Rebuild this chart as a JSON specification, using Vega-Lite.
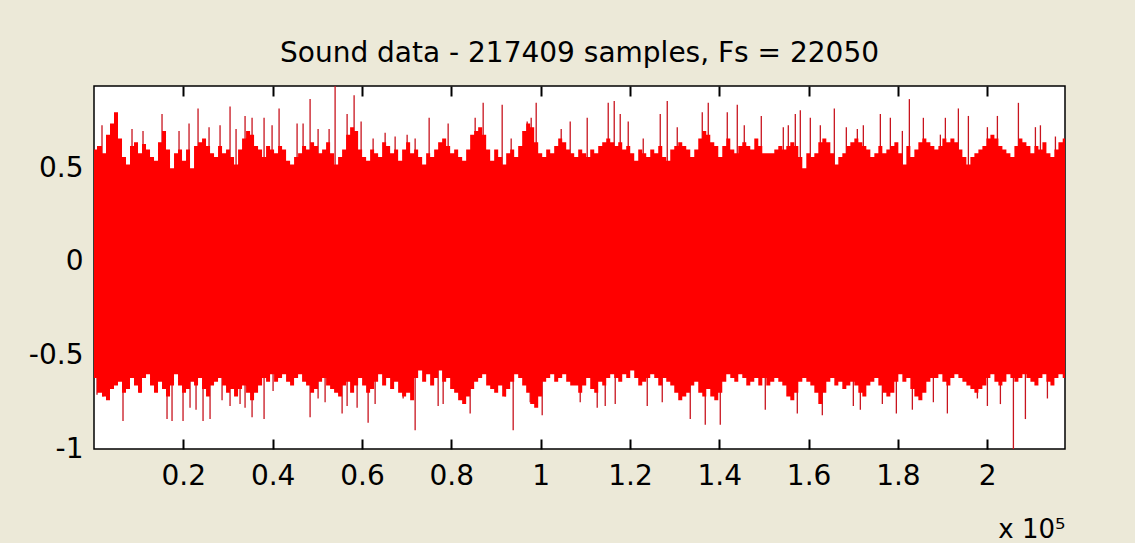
{
  "$schema": "https://vega.github.io/schema/vega-lite/v6.json",
  "autosize": "none",
  "width": 971,
  "height": 363,
  "padding": {"left": 94, "top": 86, "right": 70, "bottom": 94},
  "background": "#ECE9D8",
  "title": {"text": "Sound data - 217409 samples, Fs = 22050", "font": "DejaVu Sans", "fontSize": 28, "fontWeight": "normal", "color": "#000000", "anchor": "middle", "baseline": "alphabetic", "offset": -5},
  "datasets": {
    "cols": [
      {"x":1,"t":0.60,"b":-0.62},{"x":1344,"t":0.62,"b":-0.70},{"x":2240,"t":0.58,"b":-0.72},{"x":3136,"t":0.68,"b":-0.74},{"x":4032,"t":0.74,"b":-0.68},{"x":4928,"t":0.80,"b":-0.66},{"x":5824,"t":0.66,"b":-0.64},{"x":6720,"t":0.56,"b":-0.70},{"x":7616,"t":0.52,"b":-0.68},{"x":8512,"t":0.62,"b":-0.62},
      {"x":9408,"t":0.64,"b":-0.66},{"x":10304,"t":0.58,"b":-0.70},{"x":11200,"t":0.63,"b":-0.62},{"x":12096,"t":0.60,"b":-0.60},{"x":12992,"t":0.56,"b":-0.66},{"x":13888,"t":0.54,"b":-0.70},{"x":14784,"t":0.64,"b":-0.64},{"x":15680,"t":0.70,"b":-0.68},{"x":16576,"t":0.60,"b":-0.72},{"x":17472,"t":0.50,"b":-0.66},
      {"x":18368,"t":0.58,"b":-0.60},{"x":19264,"t":0.60,"b":-0.66},{"x":20160,"t":0.54,"b":-0.70},{"x":21056,"t":0.60,"b":-0.68},{"x":21952,"t":0.50,"b":-0.64},{"x":22848,"t":0.62,"b":-0.66},{"x":23744,"t":0.64,"b":-0.62},{"x":24640,"t":0.66,"b":-0.68},{"x":25536,"t":0.62,"b":-0.72},{"x":26432,"t":0.58,"b":-0.66},
      {"x":27328,"t":0.56,"b":-0.64},{"x":28224,"t":0.62,"b":-0.62},{"x":29120,"t":0.58,"b":-0.66},{"x":30016,"t":0.60,"b":-0.70},{"x":30912,"t":0.56,"b":-0.68},{"x":31808,"t":0.52,"b":-0.72},{"x":32704,"t":0.60,"b":-0.68},{"x":33600,"t":0.66,"b":-0.66},{"x":34496,"t":0.70,"b":-0.70},{"x":35392,"t":0.68,"b":-0.74},
      {"x":36288,"t":0.62,"b":-0.70},{"x":37184,"t":0.60,"b":-0.66},{"x":38080,"t":0.56,"b":-0.62},{"x":38976,"t":0.62,"b":-0.64},{"x":39872,"t":0.60,"b":-0.60},{"x":40768,"t":0.58,"b":-0.64},{"x":41664,"t":0.62,"b":-0.62},{"x":42560,"t":0.60,"b":-0.60},{"x":43456,"t":0.54,"b":-0.64},{"x":44352,"t":0.52,"b":-0.66},
      {"x":45248,"t":0.56,"b":-0.62},{"x":46144,"t":0.58,"b":-0.60},{"x":47040,"t":0.62,"b":-0.64},{"x":47936,"t":0.60,"b":-0.66},{"x":48832,"t":0.64,"b":-0.70},{"x":49728,"t":0.62,"b":-0.68},{"x":50624,"t":0.58,"b":-0.64},{"x":51520,"t":0.60,"b":-0.62},{"x":52416,"t":0.64,"b":-0.66},{"x":53312,"t":0.58,"b":-0.68},
      {"x":54208,"t":0.52,"b":-0.70},{"x":55104,"t":0.56,"b":-0.72},{"x":56000,"t":0.60,"b":-0.66},{"x":56896,"t":0.68,"b":-0.64},{"x":57792,"t":0.72,"b":-0.70},{"x":58688,"t":0.70,"b":-0.66},{"x":59584,"t":0.60,"b":-0.62},{"x":60480,"t":0.56,"b":-0.66},{"x":61376,"t":0.54,"b":-0.70},{"x":62272,"t":0.60,"b":-0.68},
      {"x":63168,"t":0.58,"b":-0.64},{"x":64064,"t":0.56,"b":-0.60},{"x":64960,"t":0.64,"b":-0.66},{"x":65856,"t":0.62,"b":-0.62},{"x":66752,"t":0.58,"b":-0.68},{"x":67648,"t":0.60,"b":-0.64},{"x":68544,"t":0.54,"b":-0.70},{"x":69440,"t":0.60,"b":-0.72},{"x":70336,"t":0.64,"b":-0.70},{"x":71232,"t":0.58,"b":-0.74},
      {"x":72128,"t":0.60,"b":-0.62},{"x":73024,"t":0.56,"b":-0.58},{"x":73920,"t":0.52,"b":-0.64},{"x":74816,"t":0.58,"b":-0.60},{"x":75712,"t":0.56,"b":-0.66},{"x":76608,"t":0.60,"b":-0.62},{"x":77504,"t":0.64,"b":-0.58},{"x":78400,"t":0.66,"b":-0.64},{"x":79296,"t":0.62,"b":-0.62},{"x":80192,"t":0.58,"b":-0.68},
      {"x":81088,"t":0.60,"b":-0.70},{"x":81984,"t":0.56,"b":-0.74},{"x":82880,"t":0.54,"b":-0.76},{"x":83776,"t":0.60,"b":-0.72},{"x":84672,"t":0.68,"b":-0.68},{"x":85568,"t":0.70,"b":-0.64},{"x":86464,"t":0.72,"b":-0.62},{"x":87360,"t":0.68,"b":-0.60},{"x":88256,"t":0.60,"b":-0.66},{"x":89152,"t":0.54,"b":-0.68},
      {"x":90048,"t":0.60,"b":-0.70},{"x":90944,"t":0.56,"b":-0.66},{"x":91840,"t":0.52,"b":-0.72},{"x":92736,"t":0.58,"b":-0.68},{"x":93632,"t":0.60,"b":-0.64},{"x":94528,"t":0.56,"b":-0.60},{"x":95424,"t":0.62,"b":-0.62},{"x":96320,"t":0.70,"b":-0.66},{"x":97216,"t":0.74,"b":-0.70},{"x":98112,"t":0.72,"b":-0.76},
      {"x":99008,"t":0.64,"b":-0.78},{"x":99904,"t":0.58,"b":-0.72},{"x":100800,"t":0.56,"b":-0.64},{"x":101696,"t":0.60,"b":-0.62},{"x":102592,"t":0.58,"b":-0.60},{"x":103488,"t":0.62,"b":-0.64},{"x":104384,"t":0.66,"b":-0.62},{"x":105280,"t":0.64,"b":-0.60},{"x":106176,"t":0.60,"b":-0.64},{"x":107072,"t":0.58,"b":-0.66},
      {"x":107968,"t":0.56,"b":-0.66},{"x":108864,"t":0.60,"b":-0.70},{"x":109760,"t":0.58,"b":-0.66},{"x":110656,"t":0.56,"b":-0.62},{"x":111552,"t":0.60,"b":-0.68},{"x":112448,"t":0.58,"b":-0.70},{"x":113344,"t":0.62,"b":-0.64},{"x":114240,"t":0.64,"b":-0.66},{"x":115136,"t":0.66,"b":-0.62},{"x":116032,"t":0.64,"b":-0.60},
      {"x":116928,"t":0.62,"b":-0.62},{"x":117824,"t":0.64,"b":-0.64},{"x":118720,"t":0.60,"b":-0.60},{"x":119616,"t":0.62,"b":-0.62},{"x":120512,"t":0.58,"b":-0.58},{"x":121408,"t":0.54,"b":-0.62},{"x":122304,"t":0.60,"b":-0.66},{"x":123200,"t":0.58,"b":-0.64},{"x":124096,"t":0.56,"b":-0.62},{"x":124992,"t":0.60,"b":-0.60},
      {"x":125888,"t":0.58,"b":-0.62},{"x":126784,"t":0.62,"b":-0.66},{"x":127680,"t":0.56,"b":-0.62},{"x":128576,"t":0.54,"b":-0.64},{"x":129472,"t":0.60,"b":-0.66},{"x":130368,"t":0.62,"b":-0.70},{"x":131264,"t":0.64,"b":-0.74},{"x":132160,"t":0.62,"b":-0.72},{"x":133056,"t":0.60,"b":-0.70},{"x":133952,"t":0.56,"b":-0.66},
      {"x":134848,"t":0.60,"b":-0.64},{"x":135744,"t":0.66,"b":-0.70},{"x":136640,"t":0.70,"b":-0.72},{"x":137536,"t":0.68,"b":-0.68},{"x":138432,"t":0.64,"b":-0.72},{"x":139328,"t":0.62,"b":-0.74},{"x":140224,"t":0.56,"b":-0.70},{"x":141120,"t":0.62,"b":-0.64},{"x":142016,"t":0.66,"b":-0.60},{"x":142912,"t":0.60,"b":-0.62},
      {"x":143808,"t":0.58,"b":-0.64},{"x":144704,"t":0.62,"b":-0.60},{"x":145600,"t":0.64,"b":-0.62},{"x":146496,"t":0.62,"b":-0.66},{"x":147392,"t":0.60,"b":-0.64},{"x":148288,"t":0.66,"b":-0.62},{"x":149184,"t":0.62,"b":-0.66},{"x":150080,"t":0.58,"b":-0.62},{"x":150976,"t":0.58,"b":-0.66},{"x":151872,"t":0.58,"b":-0.64},
      {"x":152768,"t":0.60,"b":-0.62},{"x":153664,"t":0.62,"b":-0.64},{"x":154560,"t":0.60,"b":-0.66},{"x":155456,"t":0.62,"b":-0.72},{"x":156352,"t":0.64,"b":-0.74},{"x":157248,"t":0.62,"b":-0.70},{"x":158144,"t":0.56,"b":-0.64},{"x":159040,"t":0.50,"b":-0.62},{"x":159936,"t":0.58,"b":-0.64},{"x":160832,"t":0.56,"b":-0.66},
      {"x":161728,"t":0.58,"b":-0.70},{"x":162624,"t":0.64,"b":-0.76},{"x":163520,"t":0.66,"b":-0.70},{"x":164416,"t":0.64,"b":-0.64},{"x":165312,"t":0.58,"b":-0.62},{"x":166208,"t":0.52,"b":-0.66},{"x":167104,"t":0.56,"b":-0.64},{"x":168000,"t":0.58,"b":-0.68},{"x":168896,"t":0.62,"b":-0.66},{"x":169792,"t":0.64,"b":-0.64},
      {"x":170688,"t":0.66,"b":-0.66},{"x":171584,"t":0.64,"b":-0.70},{"x":172480,"t":0.62,"b":-0.72},{"x":173376,"t":0.60,"b":-0.66},{"x":174272,"t":0.56,"b":-0.64},{"x":175168,"t":0.58,"b":-0.62},{"x":176064,"t":0.62,"b":-0.66},{"x":176960,"t":0.58,"b":-0.70},{"x":177856,"t":0.60,"b":-0.72},{"x":178752,"t":0.62,"b":-0.70},
      {"x":179648,"t":0.64,"b":-0.64},{"x":180544,"t":0.58,"b":-0.60},{"x":181440,"t":0.52,"b":-0.64},{"x":182336,"t":0.62,"b":-0.62},{"x":183232,"t":0.56,"b":-0.68},{"x":184128,"t":0.60,"b":-0.72},{"x":185024,"t":0.64,"b":-0.74},{"x":185920,"t":0.66,"b":-0.70},{"x":186816,"t":0.64,"b":-0.64},{"x":187712,"t":0.62,"b":-0.62},
      {"x":188608,"t":0.60,"b":-0.62},{"x":189504,"t":0.62,"b":-0.60},{"x":190400,"t":0.66,"b":-0.64},{"x":191296,"t":0.64,"b":-0.66},{"x":192192,"t":0.66,"b":-0.62},{"x":193088,"t":0.64,"b":-0.60},{"x":193984,"t":0.60,"b":-0.62},{"x":194880,"t":0.56,"b":-0.64},{"x":195776,"t":0.52,"b":-0.66},{"x":196672,"t":0.56,"b":-0.68},
      {"x":197568,"t":0.58,"b":-0.70},{"x":198464,"t":0.60,"b":-0.68},{"x":199360,"t":0.62,"b":-0.66},{"x":200256,"t":0.66,"b":-0.62},{"x":201152,"t":0.68,"b":-0.60},{"x":202048,"t":0.66,"b":-0.64},{"x":202944,"t":0.62,"b":-0.66},{"x":203840,"t":0.60,"b":-0.64},{"x":204736,"t":0.58,"b":-0.60},{"x":205632,"t":0.56,"b":-0.62},
      {"x":206528,"t":0.62,"b":-0.64},{"x":207424,"t":0.66,"b":-0.62},{"x":208320,"t":0.64,"b":-0.60},{"x":209216,"t":0.62,"b":-0.62},{"x":210112,"t":0.58,"b":-0.64},{"x":211008,"t":0.62,"b":-0.66},{"x":211904,"t":0.60,"b":-0.62},{"x":212800,"t":0.64,"b":-0.60},{"x":213696,"t":0.58,"b":-0.64},{"x":214592,"t":0.56,"b":-0.66},
      {"x":215488,"t":0.60,"b":-0.62},{"x":216384,"t":0.64,"b":-0.60},{"x":217409,"t":0.66,"b":-0.62}
    ],
    "spikes": [
      {"x":1792,"v":0.73},{"x":8512,"v":0.71},{"x":10976,"v":0.70},{"x":15232,"v":0.79},{"x":19040,"v":0.70},{"x":21280,"v":0.74},{"x":23296,"v":0.82},{"x":25760,"v":0.72},{"x":28224,"v":0.73},{"x":30464,"v":0.83},{"x":31808,"v":0.71},{"x":33824,"v":0.78},{"x":35392,"v":0.77},{"x":38080,"v":0.77},{"x":39872,"v":0.73},{"x":41440,"v":0.82},{"x":45472,"v":0.74},{"x":46816,"v":0.74},{"x":48384,"v":0.87},{"x":50176,"v":0.71},{"x":52640,"v":0.71},{"x":53984,"v":0.94},{"x":56672,"v":0.79},{"x":58240,"v":0.89},{"x":59808,"v":0.75},{"x":62496,"v":0.66},{"x":65184,"v":0.69},{"x":67424,"v":0.67},{"x":70112,"v":0.68},{"x":71904,"v":0.66},
      {"x":75040,"v":0.77},{"x":79296,"v":0.74},{"x":85344,"v":0.77},{"x":87136,"v":0.85},{"x":91392,"v":0.84},{"x":93408,"v":0.66},{"x":96992,"v":0.75},{"x":97888,"v":0.77},{"x":99008,"v":0.85},{"x":104608,"v":0.71},{"x":106624,"v":0.75},{"x":110432,"v":0.77},{"x":115136,"v":0.85},{"x":116480,"v":0.86},{"x":117824,"v":0.79},{"x":119616,"v":0.75},{"x":122976,"v":0.66},{"x":126784,"v":0.79},{"x":128352,"v":0.86},{"x":130592,"v":0.72},{"x":136192,"v":0.80},{"x":137536,"v":0.85},{"x":141792,"v":0.80},{"x":144032,"v":0.84},
      {"x":145600,"v":0.73},{"x":149408,"v":0.78},{"x":154336,"v":0.72},{"x":155456,"v":0.73},{"x":157024,"v":0.79},{"x":158144,"v":0.81},{"x":160384,"v":0.77},{"x":162624,"v":0.73},{"x":165760,"v":0.82},{"x":168448,"v":0.72},{"x":170912,"v":0.71},{"x":172256,"v":0.73},{"x":176064,"v":0.79},{"x":178304,"v":0.77},{"x":180992,"v":0.70},{"x":182560,"v":0.87},{"x":185696,"v":0.77},{"x":189504,"v":0.68},{"x":190624,"v":0.77},{"x":193536,"v":0.82},{"x":195776,"v":0.78},{"x":200032,"v":0.72},{"x":202272,"v":0.78},{"x":206976,"v":0.85},{"x":210784,"v":0.72},{"x":211904,"v":0.73},{"x":215264,"v":0.67},
      {"x":672,"v":-0.71},{"x":2016,"v":-0.72},{"x":6496,"v":-0.85},{"x":10304,"v":-0.70},{"x":14112,"v":-0.68},{"x":16352,"v":-0.84},{"x":17472,"v":-0.85},{"x":19936,"v":-0.85},{"x":21504,"v":-0.78},{"x":22848,"v":-0.79},{"x":24416,"v":-0.85},{"x":25984,"v":-0.84},{"x":28672,"v":-0.74},{"x":30464,"v":-0.77},{"x":32704,"v":-0.76},{"x":33824,"v":-0.78},{"x":35392,"v":-0.83},{"x":38080,"v":-0.84},{"x":40096,"v":-0.69},{"x":48384,"v":-0.83},{"x":50176,"v":-0.73},{"x":51744,"v":-0.75},{"x":55552,"v":-0.81},{"x":56672,"v":-0.77},{"x":58912,"v":-0.78},{"x":61376,"v":-0.86},{"x":62944,"v":-0.76},{"x":69216,"v":-0.73},{"x":71904,"v":-0.90},
      {"x":77056,"v":-0.77},{"x":78176,"v":-0.76},{"x":84224,"v":-0.81},{"x":92064,"v":-0.72},{"x":93856,"v":-0.90},{"x":97664,"v":-0.75},{"x":100352,"v":-0.82},{"x":108864,"v":-0.75},{"x":112672,"v":-0.78},{"x":114464,"v":-0.77},{"x":116704,"v":-0.76},{"x":123872,"v":-0.77},{"x":127232,"v":-0.75},{"x":133504,"v":-0.84},{"x":136864,"v":-0.87},{"x":140224,"v":-0.87},
      {"x":150304,"v":-0.79},{"x":157472,"v":-0.81},{"x":163072,"v":-0.82},{"x":170016,"v":-0.77},{"x":171584,"v":-0.79},{"x":176512,"v":-0.76},{"x":179648,"v":-0.81},{"x":183232,"v":-0.79},{"x":187936,"v":-0.75},{"x":191072,"v":-0.81},{"x":197792,"v":-0.73},{"x":200032,"v":-0.77},{"x":202944,"v":-0.76},{"x":205856,"v":-1.0},{"x":208544,"v":-0.84},{"x":213472,"v":-0.73}
    ]
  },
  "layer": [
    {
      "data": {"name": "spikes"},
      "mark": {"type": "rule", "color": "#C8141E", "strokeWidth": 1.3, "clip": true},
      "encoding": {
        "x": {"field": "x", "type": "quantitative", "scale": {"domain": [1, 217409], "nice": false, "zero": false},
              "axis": {"orient": "bottom", "zindex": 1, "tickSize": -10, "tickColor": "#000000", "tickWidth": 2, "tickOpacity": 1, "labelPadding": 23, "values": [20000,40000,60000,80000,100000,120000,140000,160000,180000,200000], "labelExpr": "toString(datum.value/100000)", "title": "x 10⁵", "titleAnchor": "end", "titleAlign": "right", "titleX": 971, "titleY": 88, "titleBaseline": "alphabetic", "titleFontSize": 26, "titleFontWeight": "normal", "titleFont": "DejaVu Sans", "titleColor": "#000000"}},
        "y": {"field": "v", "type": "quantitative", "scale": {"domain": [-1, 0.94], "nice": false, "zero": false},
              "axis": {"values": [-1, -0.5, 0, 0.5], "labelExpr": "toString(datum.value)", "title": null, "tickOpacity": 0}},
        "y2": {"datum": 0}
      }
    },
    {
      "data": {"name": "cols"},
      "mark": {"type": "area", "interpolate": "step", "color": "#FF0000", "clip": true},
      "encoding": {
        "x": {"field": "x", "type": "quantitative", "axis": {"orient": "top", "zindex": 1, "tickSize": -10, "tickColor": "#000000", "tickWidth": 2, "tickOpacity": 1, "values": [20000,40000,60000,80000,100000,120000,140000,160000,180000,200000], "labels": false, "title": null}},
        "y": {"field": "t", "type": "quantitative"},
        "y2": {"field": "b"}
      }
    }
  ],
  "resolve": {"axis": {"x": "independent"}},
  "config": {
    "view": {"stroke": "#000000", "strokeWidth": 1.5, "fill": "#FFFFFF"},
    "axis": {"grid": false, "domain": false, "ticks": true, "tickSize": -9, "tickWidth": 1.5, "tickColor": "#000000", "labelFont": "DejaVu Sans", "labelFontSize": 28, "labelColor": "#000000", "labelPadding": 22},
    "axisY": {"labelPadding": 20}
  }
}
